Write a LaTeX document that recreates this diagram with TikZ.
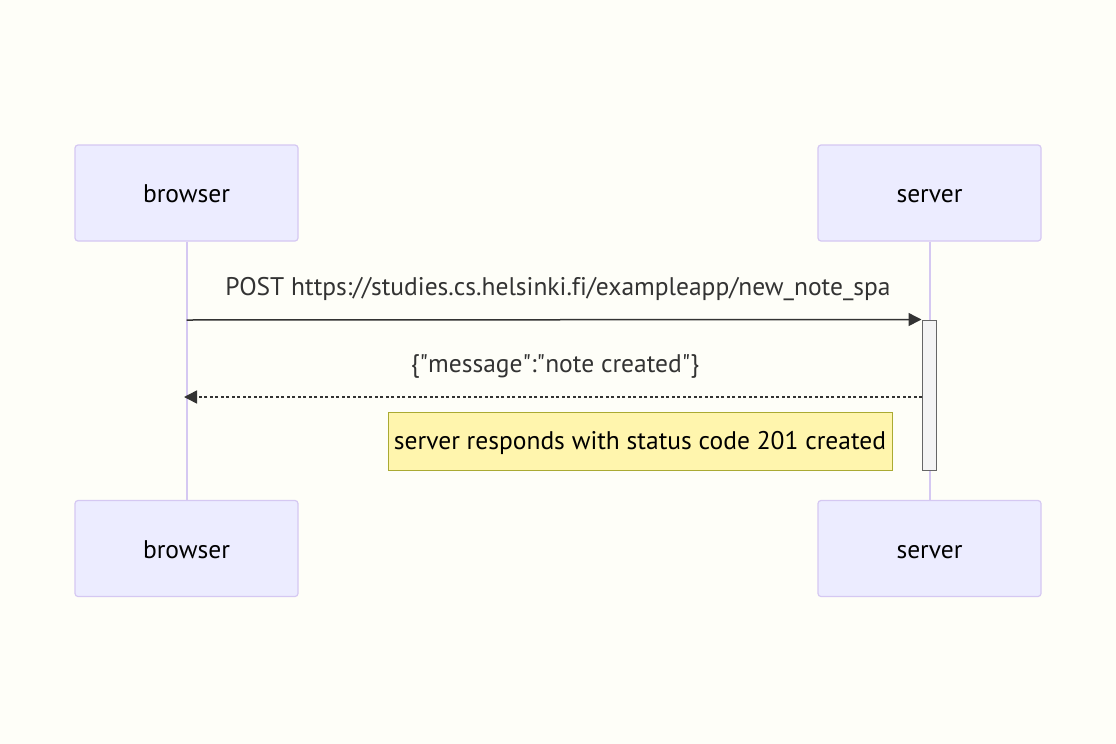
\documentclass[tikz,border=0pt]{standalone}
\usepackage{fontspec}
\setmainfont[Ligatures=NoCommon]{PT Sans}
\usetikzlibrary{arrows.meta}
\definecolor{bgc}{HTML}{FEFEF8}
\definecolor{actfill}{HTML}{ECECFF}
\definecolor{actdraw}{HTML}{D5C8F2}
\definecolor{lifec}{HTML}{D5C8F2}
\definecolor{msgc}{HTML}{333333}
\definecolor{notefill}{HTML}{FFF5AD}
\definecolor{notedraw}{HTML}{AAAA33}
\definecolor{activfill}{HTML}{F4F4F4}
\definecolor{activdraw}{HTML}{666666}
\begin{document}
\begin{tikzpicture}[x=1pt,y=-1pt,
  actor/.style={draw=actdraw,fill=actfill,line width=1.2pt,rounded corners=3pt,minimum width=223pt,minimum height=96pt,inner sep=0pt,font=\fontsize{25.5}{30}\selectfont,text=black,text height=21pt,text depth=2pt},
  lifeline/.style={draw=lifec,line width=2pt},
  msg/.style={draw=msgc,line width=1.5pt,-{Triangle[length=13pt,width=13pt]}},
  msglabel/.style={font=\fontsize{25.5}{30}\selectfont,text=msgc,inner sep=0pt,text height=21pt,text depth=2pt},
  notebox/.style={draw=notedraw,fill=notefill,line width=1pt,inner sep=0pt,minimum width=504pt,minimum height=58pt,font=\fontsize{25.5}{30}\selectfont,text=black,text height=20pt,text depth=3pt},
  activbox/.style={draw=activdraw,fill=activfill,line width=1pt,minimum width=14pt,minimum height=150pt,inner sep=0pt}]
\useasboundingbox[fill=bgc] (0,0) rectangle (1116,744);
\node[actor] (bt) at (186.5,193) {browser};
\node[actor] (st) at (929.5,193) {server};
\node[actor] (bb) at (186.5,548.5) {browser};
\node[actor] (sb) at (929.5,548.5) {server};
\draw[lifeline] (bt.south) -- (bb.north);
\draw[lifeline] (st.south) -- (sb.north);
\node[activbox] (act) at (929,395) {};
\coordinate (m1s) at (186.5,320);
\coordinate (m1e) at (act.north west);
\draw[msg] (m1s) -- (m1e);
\node[msglabel] (l1) at (558,286) {POST https://studies.cs.helsinki.fi/exampleapp/new\_note\_spa};
\coordinate (m2s) at (922,397);
\coordinate (m2e) at (184,397);
\draw[msg,dash pattern=on 3pt off 2.5pt] (m2s) -- (m2e);
\node[msglabel] (l2) at (555,363) {\{\textquotedbl message\textquotedbl:\textquotedbl note created\textquotedbl\}};
\node[notebox] (note) at (640,441) {server responds with status code 201 created};
\end{tikzpicture}
\end{document}
